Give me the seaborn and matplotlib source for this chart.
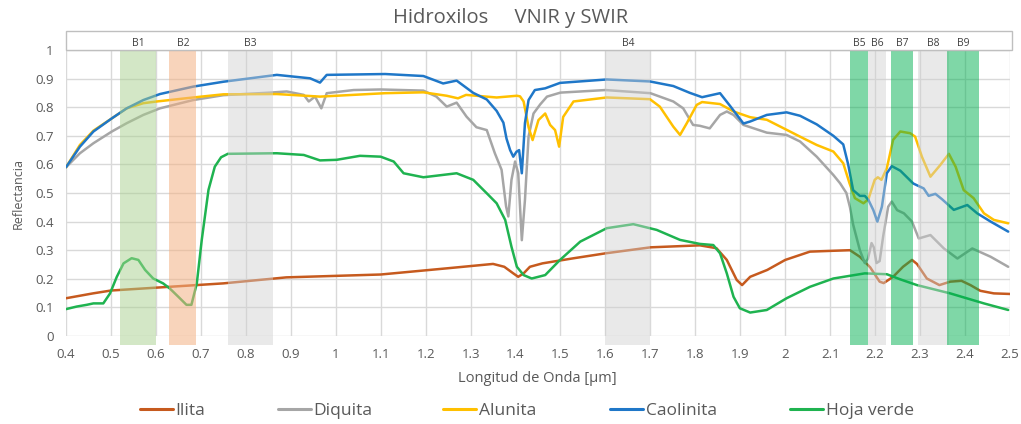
import matplotlib
matplotlib.use("Agg")
import matplotlib.pyplot as plt
import numpy as np
import pandas as pd
import seaborn as sns
from matplotlib.patches import Rectangle
from matplotlib.lines import Line2D
from matplotlib.ticker import FuncFormatter

# ---------------- data ----------------
series_names = ["Ilita", "Diquita", "Alunita", "Caolinita", "Hoja verde"]
series_colors = ["#c65a1e", "#a6a6a6", "#ffc000", "#1f77c8", "#1fb350"]

ilita_x = [0.40, 0.46, 0.50, 0.61, 0.75, 0.89, 1.10, 1.25, 1.35, 1.375, 1.395, 1.406, 1.418,
           1.432, 1.46, 1.53, 1.60, 1.70, 1.81, 1.847, 1.87, 1.892, 1.904, 1.922, 1.96, 2.00,
           2.055, 2.107, 2.144, 2.166, 2.189, 2.21, 2.219, 2.24, 2.262, 2.282, 2.293, 2.315,
           2.343, 2.367, 2.392, 2.412, 2.434, 2.464, 2.50]
ilita_y = [0.132, 0.149, 0.159, 0.170, 0.184, 0.205, 0.215, 0.237, 0.252, 0.242, 0.219, 0.207,
           0.219, 0.242, 0.254, 0.272, 0.289, 0.310, 0.317, 0.307, 0.266, 0.196, 0.178, 0.207,
           0.231, 0.266, 0.295, 0.298, 0.300, 0.277, 0.240, 0.190, 0.185, 0.207, 0.242, 0.266,
           0.252, 0.201, 0.178, 0.190, 0.193, 0.178, 0.158, 0.149, 0.147]

diquita_x = [0.40, 0.431, 0.461, 0.502, 0.535, 0.572, 0.609, 0.683, 0.75, 0.854, 0.891, 0.929,
             0.94, 0.954, 0.968, 0.98, 1.04, 1.10, 1.195, 1.224, 1.247, 1.269, 1.291, 1.313,
             1.336, 1.354, 1.369, 1.379, 1.384, 1.391, 1.399, 1.406, 1.414, 1.421, 1.429, 1.44,
             1.455, 1.47, 1.50, 1.60, 1.70, 1.751, 1.773, 1.795, 1.81, 1.832, 1.855, 1.87, 1.885,
             1.907, 1.959, 2.003, 2.033, 2.07, 2.107, 2.122, 2.136, 2.144, 2.151, 2.166, 2.177,
             2.184, 2.192, 2.197, 2.203, 2.21, 2.218, 2.229, 2.237, 2.249, 2.264, 2.282, 2.297,
             2.323, 2.353, 2.383, 2.416, 2.457, 2.496]
diquita_y = [0.59, 0.639, 0.674, 0.715, 0.744, 0.773, 0.796, 0.825, 0.842, 0.851, 0.855, 0.843,
             0.82, 0.837, 0.796, 0.849, 0.86, 0.862, 0.858, 0.837, 0.802, 0.816, 0.767, 0.73,
             0.72, 0.639, 0.581, 0.453, 0.418, 0.546, 0.61, 0.569, 0.335, 0.476, 0.697, 0.778,
             0.81, 0.837, 0.851, 0.86, 0.849, 0.82, 0.796, 0.738, 0.735, 0.726, 0.773, 0.785,
             0.773, 0.738, 0.711, 0.703, 0.68, 0.627, 0.563, 0.534, 0.50, 0.45, 0.39, 0.30, 0.255,
             0.27, 0.325, 0.31, 0.255, 0.262, 0.35, 0.452, 0.47, 0.44, 0.429, 0.40, 0.341,
             0.353, 0.306, 0.271, 0.306, 0.277, 0.242]

alunita_x = [0.40, 0.431, 0.461, 0.502, 0.535, 0.572, 0.602, 0.683, 0.75, 0.869, 0.965, 1.11,
             1.195, 1.247, 1.272, 1.29, 1.358, 1.403, 1.41, 1.418, 1.429, 1.438, 1.451, 1.466,
             1.477, 1.488, 1.497, 1.506, 1.529, 1.603, 1.699, 1.721, 1.751, 1.766, 1.781, 1.803,
             1.815, 1.855, 1.885, 1.922, 1.959, 2.003, 2.033, 2.07, 2.107, 2.129, 2.143, 2.155,
             2.174, 2.185, 2.188, 2.199, 2.206, 2.214, 2.226, 2.24, 2.256, 2.278, 2.289, 2.304,
             2.323, 2.345, 2.364, 2.379, 2.397, 2.419, 2.442, 2.464, 2.496]
alunita_y = [0.59, 0.668, 0.718, 0.761, 0.796, 0.814, 0.82, 0.834, 0.845, 0.846, 0.837, 0.849,
             0.852, 0.84, 0.831, 0.843, 0.834, 0.84, 0.838, 0.82, 0.73, 0.685, 0.755, 0.778,
             0.738, 0.72, 0.662, 0.766, 0.82, 0.834, 0.828, 0.802, 0.732, 0.703, 0.744, 0.808,
             0.818, 0.811, 0.785, 0.765, 0.756, 0.721, 0.697, 0.668, 0.645, 0.604, 0.534, 0.482,
             0.464, 0.478, 0.493, 0.546, 0.555, 0.546, 0.587, 0.686, 0.715, 0.709, 0.697, 0.627,
             0.557, 0.598, 0.637, 0.592, 0.51, 0.482, 0.429, 0.406, 0.394]

caolinita_x = [0.40, 0.431, 0.461, 0.502, 0.535, 0.572, 0.609, 0.683, 0.75, 0.869, 0.943, 0.965,
               0.98, 1.11, 1.195, 1.239, 1.269, 1.306, 1.336, 1.358, 1.373, 1.38, 1.388, 1.395,
               1.402, 1.408, 1.414, 1.421, 1.429, 1.443, 1.466, 1.499, 1.603, 1.699, 1.751,
               1.788, 1.815, 1.855, 1.877, 1.907, 1.922, 1.959, 2.003, 2.033, 2.07, 2.107, 2.129,
               2.14, 2.151, 2.166, 2.177, 2.185, 2.196, 2.205, 2.215, 2.226, 2.237, 2.256, 2.285,
               2.308, 2.319, 2.334, 2.349, 2.375, 2.405, 2.427, 2.457, 2.496]
caolinita_y = [0.59, 0.662, 0.715, 0.761, 0.796, 0.825, 0.846, 0.872, 0.889, 0.913, 0.901, 0.886,
               0.913, 0.916, 0.909, 0.883, 0.893, 0.85, 0.827, 0.787, 0.746, 0.69, 0.65, 0.627,
               0.644, 0.65, 0.569, 0.745, 0.825, 0.86, 0.866, 0.885, 0.897, 0.89, 0.874, 0.85,
               0.835, 0.849, 0.805, 0.743, 0.75, 0.773, 0.782, 0.77, 0.74, 0.70, 0.67, 0.60,
               0.51, 0.49, 0.49, 0.476, 0.44, 0.40, 0.452, 0.569, 0.594, 0.578, 0.533, 0.516,
               0.49, 0.497, 0.478, 0.441, 0.458, 0.429, 0.40, 0.365]

hoja_x = [0.40, 0.424, 0.446, 0.461, 0.483, 0.498, 0.513, 0.528, 0.546, 0.561, 0.576, 0.594,
          0.616, 0.631, 0.65, 0.668, 0.679, 0.691, 0.702, 0.717, 0.731, 0.745, 0.76, 0.869,
          0.929, 0.965, 1.002, 1.054, 1.10, 1.129, 1.151, 1.195, 1.269, 1.306, 1.336, 1.358,
          1.377, 1.391, 1.403, 1.418, 1.436, 1.466, 1.499, 1.544, 1.603, 1.662, 1.714, 1.766,
          1.81, 1.84, 1.855, 1.87, 1.885, 1.899, 1.922, 1.959, 2.003, 2.055, 2.107, 2.177,
          2.226, 2.256, 2.293, 2.367, 2.442, 2.496]
hoja_y = [0.094, 0.103, 0.109, 0.114, 0.114, 0.149, 0.207, 0.254, 0.272, 0.266, 0.231, 0.201,
          0.184, 0.166, 0.137, 0.109, 0.109, 0.184, 0.336, 0.511, 0.592, 0.625, 0.637, 0.639,
          0.633, 0.614, 0.616, 0.63, 0.627, 0.61, 0.569, 0.555, 0.569, 0.546, 0.499, 0.464,
          0.406, 0.312, 0.242, 0.213, 0.201, 0.213, 0.266, 0.33, 0.377, 0.391, 0.371, 0.336,
          0.322, 0.318, 0.289, 0.219, 0.137, 0.097, 0.082, 0.091, 0.132, 0.172, 0.201, 0.219,
          0.216, 0.198, 0.178, 0.149, 0.114, 0.091]

band_names = ["B1", "B2", "B3", "B4", "B5", "B6", "B7", "B8", "B9"]
band_start = [0.52, 0.63, 0.76, 1.60, 2.145, 2.185, 2.235, 2.295, 2.36]
band_end = [0.60, 0.69, 0.86, 1.70, 2.185, 2.225, 2.285, 2.365, 2.43]
band_colors = ["#a9d18e", "#f4b183", "#d0d0d0", "#d0d0d0", "#00b050",
               "#d0d0d0", "#00b050", "#d0d0d0", "#00b050"]
band_alpha = [0.5, 0.55, 0.45, 0.45, 0.5, 0.45, 0.5, 0.45, 0.5]

x_ticks = [round(0.4 + 0.1 * i, 1) for i in range(22)]
y_ticks = [round(0.1 * i, 1) for i in range(11)]

# ---------------- figure ----------------
sns.set_theme(style="white")
plt.rcParams['font.family'] = ['Open Sans', 'DejaVu Sans']

W, H = 1021, 424
fig = plt.figure(figsize=(W / 100, H / 100), dpi=100)
ax = fig.add_axes([66 / W, 1 - 336 / H, 944 / W, 286 / H])

xs_all = [ilita_x, diquita_x, alunita_x, caolinita_x, hoja_x]
ys_all = [ilita_y, diquita_y, alunita_y, caolinita_y, hoja_y]
frames = [pd.DataFrame({"Longitud": x, "Reflectancia": y, "Serie": n})
          for n, x, y in zip(series_names, xs_all, ys_all)]
df = pd.concat(frames, ignore_index=True)

sns.lineplot(data=df, x="Longitud", y="Reflectancia", hue="Serie", hue_order=series_names,
             palette=series_colors, linewidth=1.8, estimator=None, legend=False, ax=ax,
             zorder=2)

# bands (semi-transparent, over the lines)
for s, e, c, a in zip(band_start, band_end, band_colors, band_alpha):
    ax.bar((s + e) / 2, 1.03, width=e - s, bottom=-0.03, color=c, alpha=a,
           linewidth=0, clip_on=False, zorder=3)

# top label box
ax.add_patch(Rectangle((0.4, 1.0), 2.1 + 2 / 449.5, 0.066, transform=ax.transData,
                       facecolor="white", edgecolor="#bfbfbf", linewidth=1, clip_on=False,
                       zorder=4))
for n, s, e in zip(band_names, band_start, band_end):
    ax.text((s + e) / 2, 1.024, n, ha="center", va="center", fontsize=7.5,
            color="#404040", clip_on=False, zorder=5)

ax.set_xlim(0.4, 2.5)
ax.set_ylim(0, 1)
ax.set_xticks(x_ticks)
ax.set_yticks(y_ticks)
fmt = FuncFormatter(lambda v, p: f"{v:g}")
ax.xaxis.set_major_formatter(fmt)
ax.yaxis.set_major_formatter(fmt)
ax.grid(True, color="#d9d9d9", linewidth=1)
ax.set_axisbelow(True)
for sp in ax.spines.values():
    sp.set_visible(False)
ax.tick_params(axis="both", length=0, labelsize=9.5, labelcolor="#595959")
ax.tick_params(axis="x", pad=9)
ax.tick_params(axis="y", pad=9)
ax.set_xlabel("")
ax.set_ylabel("")

fig.text(537 / W, 1 - 378 / H, "Longitud de Onda [µm]", ha="center", va="center",
         fontsize=10.5, color="#595959")
fig.text(18 / W, 1 - 193 / H, "Reflectancia", ha="center", va="center", rotation=90,
         fontsize=9, color="#595959")
fig.text(511 / W, 1 - 18 / H, "Hidroxilos     VNIR y SWIR", ha="center", va="center",
         fontsize=14.5, color="#595959")

# legend: one entry per slot, positioned like the reference
legend_x = [140, 278, 443, 610, 790]
for name, col, lx in zip(series_names, series_colors, legend_x):
    leg = fig.legend([Line2D([0], [0], color=col, lw=2.2)], [name], loc="center left",
                     bbox_to_anchor=(lx / W, 1 - 411 / H), frameon=False, fontsize=12.5,
                     handlelength=1.9, handletextpad=0.15, borderpad=0, borderaxespad=0,
                     labelcolor="#595959")

fig.savefig("out.png", dpi=100)
